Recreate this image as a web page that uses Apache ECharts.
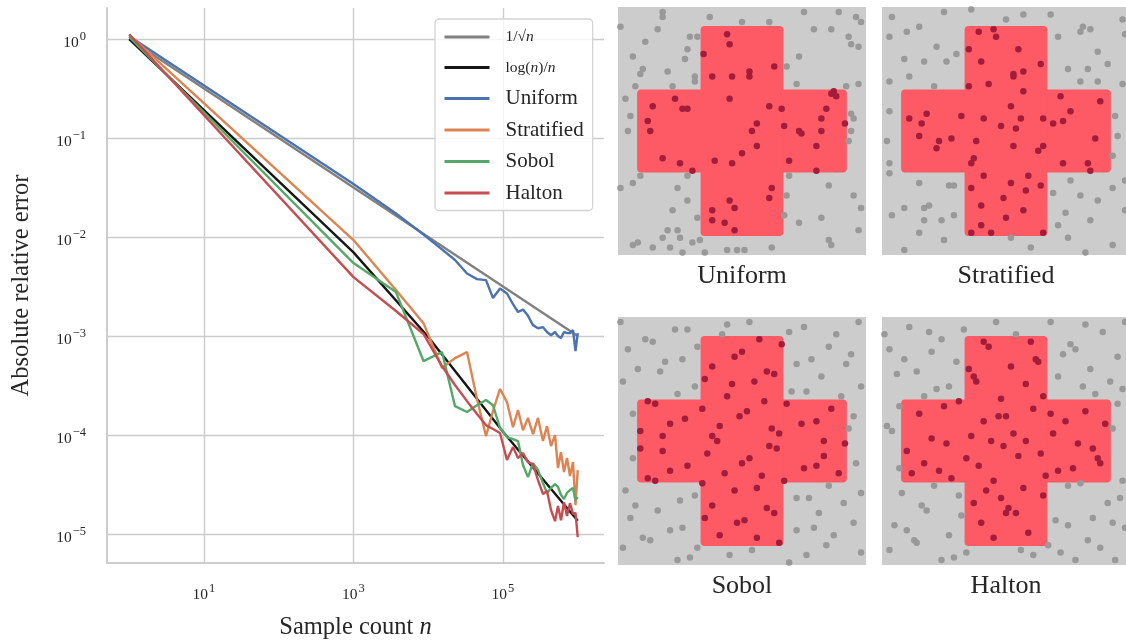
<!DOCTYPE html>
<html>
<head>
<meta charset="utf-8">
<title>Sampling error</title>
<script src="https://cdn.jsdelivr.net/npm/echarts@6.0.0/dist/echarts.min.js"></script>
<style>
  html, body { margin: 0; padding: 0; background: #fff; }
  #chart { width: 1126px; height: 641px; }
</style>
</head>
<body>
<div id="chart"></div>
<script>
var font = 'Liberation Serif';
var textColor = '#262626';

// reference curves
var refN = [1, 1000000];
var sqrtErr = [1, 0.001];
var logN = [1, 1000, 10000, 100000, 1000000];
var logErr = [1.0, 0.0070, 0.00098, 0.000108, 0.0000136];

// sample counts and errors of the four samplers
var sampleN = [1, 1000, 3700, 8640, 15280, 22800, 33000, 44900, 59200, 73500,
    91200, 113100, 136100, 158800, 185200, 216000, 251900, 293900, 342800, 387800,
    438700, 496400, 544300, 596900, 654900, 718200, 787600, 864000, 933000, 1000000];
var uniformErr = [1.07, 0.0343, 0.0173, 0.0106, 0.0075, 0.00586, 0.00428, 0.00376, 0.00367, 0.00242,
    0.00302, 0.00269, 0.00210, 0.00175, 0.00185, 0.00160, 0.00129, 0.00120, 0.00123, 0.00110,
    0.00102, 0.00110, 0.00100, 0.000954, 0.00110, 0.00107, 0.00107, 0.00115, 0.000705, 0.00107];
var stratifiedErr = [1.10, 0.00933, 0.00292, 0.00135, 0.000475, 0.000599, 0.000689, 0.000231, 0.0000977, 0.000175,
    0.000292, 0.000215, 0.000120, 0.000179, 0.000112, 0.000149, 0.000102, 0.000149, 0.0000870, 0.000123,
    0.0000774, 0.000100, 0.0000464, 0.0000673, 0.0000423, 0.0000586, 0.0000385, 0.0000533, 0.0000196, 0.0000443];
var sobolErr = [1.05, 0.00546, 0.00278, 0.000559, 0.000689, 0.000196, 0.000171, 0.000200, 0.000226, 0.000200,
    0.000118, 0.0000954, 0.0000911, 0.0000870, 0.0000498, 0.0000376, 0.0000521, 0.0000443, 0.0000327, 0.0000260,
    0.0000292, 0.0000320, 0.0000299, 0.0000248, 0.0000226, 0.0000260, 0.0000278, 0.0000292, 0.0000220, 0.0000237];
var haltonErr = [1.12, 0.00394, 0.00179, 0.00105, 0.000498, 0.000320, 0.000220, 0.000163, 0.000126, 0.000115,
    0.000105, 0.0000559, 0.0000756, 0.0000586, 0.0000658, 0.0000533, 0.0000509, 0.0000351, 0.0000254, 0.0000272,
    0.0000175, 0.0000135, 0.0000192, 0.0000138, 0.0000210, 0.0000152, 0.0000205, 0.0000160, 0.0000164, 0.00000933];

// the cross: two bars [x0, y0, x1, y1] in the unit square (y from the top)
var crossBars = [[0.077, 0.333, 0.923, 0.667], [0.333, 0.077, 0.667, 0.923]];

// sample points [x, y] in the unit square (y from the top)
var uniformPts = [
    [0.18,0.02],[0.18,0.04],[0.37,0.04],[0.50,0.06],[0.61,0.06],[0.75,0.02],[0.79,0.09],[0.89,0.02],[0.96,0.04],[0.98,0.06],
    [0.86,0.09],[0.01,0.08],[0.16,0.09],[0.11,0.14],[0.29,0.12],[0.32,0.12],[0.28,0.17],[0.27,0.21],[0.06,0.20],[0.10,0.25],
    [0.09,0.27],[0.20,0.26],[0.31,0.28],[0.31,0.30],[0.22,0.32],[0.07,0.32],[0.03,0.37],[0.73,0.20],[0.68,0.24],[0.72,0.31],
    [0.93,0.12],[0.94,0.15],[0.97,0.16],[0.97,0.31],[0.92,0.32],[0.05,0.44],[0.04,0.50],[0.94,0.43],[0.95,0.45],[0.94,0.50],
    [0.93,0.54],[0.09,0.68],[0.06,0.71],[0.01,0.73],[0.24,0.73],[0.28,0.68],[0.28,0.78],[0.22,0.82],[0.32,0.85],[0.20,0.90],
    [0.24,0.90],[0.18,0.93],[0.25,0.93],[0.08,0.95],[0.06,0.96],[0.14,0.97],[0.21,0.97],[0.30,0.95],[0.33,0.94],[0.26,0.99],
    [0.35,0.99],[0.44,0.98],[0.48,0.98],[0.51,0.98],[0.62,0.97],[0.69,0.68],[0.68,0.76],[0.67,0.84],[0.73,0.87],[0.82,0.85],
    [0.85,0.72],[0.95,0.76],[0.98,0.81],[0.97,0.90],[0.85,0.94],[0.86,0.96],
    [0.44,0.11],[0.45,0.15],[0.345,0.19],[0.38,0.28],[0.46,0.28],[0.53,0.26],[0.53,0.28],[0.63,0.24],[0.23,0.37],[0.45,0.37],
    [0.14,0.40],[0.26,0.41],[0.28,0.41],[0.61,0.40],[0.66,0.41],[0.84,0.41],[0.86,0.35],[0.87,0.34],[0.88,0.36],[0.82,0.45],
    [0.12,0.46],[0.13,0.50],[0.56,0.47],[0.54,0.50],[0.67,0.48],[0.73,0.50],[0.74,0.51],[0.82,0.50],[0.915,0.47],[0.56,0.56],
    [0.80,0.56],[0.50,0.59],[0.18,0.61],[0.25,0.63],[0.39,0.62],[0.46,0.63],[0.69,0.62],[0.30,0.66],[0.80,0.66],[0.62,0.73],
    [0.61,0.77],[0.45,0.78],[0.47,0.81],[0.38,0.82],[0.38,0.86],[0.43,0.87],[0.47,0.90]
];
var stratifiedPts = [
    [0.04,0.04],[0.25,0.02],[0.36,0.01],[0.50,0.05],[0.57,0.03],[0.68,0.03],[0.81,0.08],[0.80,0.10],[0.84,0.09],[0.97,0.05],
    [0.98,0.11],[0.03,0.12],[0.10,0.10],[0.15,0.08],[0.71,0.12],[0.22,0.16],[0.09,0.21],[0.17,0.22],[0.26,0.22],[0.30,0.19],
    [0.87,0.18],[0.91,0.23],[0.75,0.25],[0.83,0.25],[0.80,0.30],[0.87,0.30],[0.97,0.31],[0.03,0.30],[0.11,0.28],[0.21,0.32],
    [0.03,0.42],[0.94,0.44],[0.95,0.52],[0.02,0.54],[0.93,0.60],[0.03,0.63],[0.03,0.67],[0.15,0.71],[0.27,0.72],[0.29,0.72],
    [0.76,0.70],[0.69,0.75],[0.80,0.76],[0.93,0.73],[0.98,0.70],[0.09,0.81],[0.17,0.81],[0.19,0.80],[0.04,0.84],[0.17,0.86],
    [0.24,0.86],[0.29,0.84],[0.87,0.78],[0.74,0.83],[0.84,0.86],[0.98,0.82],[0.71,0.88],[0.15,0.91],[0.25,0.94],[0.09,0.98],
    [0.52,0.93],[0.60,0.97],[0.75,0.93],[0.82,0.99],[0.93,0.96],
    [0.39,0.10],[0.45,0.09],[0.46,0.12],[0.35,0.17],[0.55,0.17],[0.40,0.22],[0.64,0.23],[0.57,0.26],[0.53,0.27],[0.53,0.28],
    [0.43,0.31],[0.35,0.32],[0.57,0.34],[0.72,0.36],[0.88,0.38],[0.52,0.40],[0.76,0.42],[0.18,0.43],[0.11,0.45],[0.16,0.47],
    [0.32,0.44],[0.41,0.45],[0.56,0.45],[0.65,0.45],[0.73,0.46],[0.69,0.47],[0.48,0.48],[0.54,0.49],[0.15,0.52],[0.23,0.54],
    [0.22,0.57],[0.28,0.53],[0.38,0.54],[0.53,0.56],[0.65,0.56],[0.63,0.58],[0.86,0.53],[0.37,0.61],[0.36,0.63],[0.73,0.63],
    [0.83,0.63],[0.84,0.66],[0.41,0.68],[0.59,0.68],[0.36,0.73],[0.52,0.71],[0.58,0.74],[0.64,0.72],[0.49,0.77],[0.40,0.80],
    [0.57,0.82],[0.50,0.85],[0.40,0.88],[0.36,0.91],[0.44,0.91],[0.65,0.91]
];
var sobolPts = [
    [0.01,0.02],[0.23,0.05],[0.28,0.05],[0.44,0.03],[0.53,0.02],[0.75,0.04],[0.97,0.02],[0.69,0.06],[0.88,0.07],[0.11,0.09],
    [0.14,0.10],[0.42,0.07],[0.32,0.12],[0.04,0.13],[0.85,0.12],[0.94,0.15],[0.78,0.17],[0.72,0.19],[0.92,0.19],[0.19,0.18],
    [0.26,0.17],[0.08,0.21],[0.17,0.22],[0.82,0.24],[0.02,0.26],[0.31,0.28],[0.24,0.31],[0.70,0.30],[0.76,0.30],[0.98,0.28],
    [0.90,0.32],[0.06,0.39],[0.95,0.40],[0.93,0.45],[0.06,0.57],[0.96,0.59],[0.03,0.70],[0.85,0.68],[0.98,0.71],[0.31,0.72],
    [0.72,0.73],[0.77,0.73],[0.91,0.75],[0.07,0.76],[0.16,0.78],[0.25,0.74],[0.05,0.81],[0.81,0.79],[0.95,0.83],[0.79,0.85],
    [0.21,0.86],[0.26,0.85],[0.72,0.86],[0.87,0.88],[0.10,0.89],[0.13,0.90],[0.84,0.92],[0.02,0.93],[0.32,0.93],[0.54,0.94],
    [0.45,0.96],[0.24,0.98],[0.29,0.97],[0.76,0.96],[0.98,0.95],[0.69,0.99],
    [0.57,0.09],[0.66,0.11],[0.47,0.16],[0.50,0.14],[0.38,0.20],[0.60,0.22],[0.63,0.23],[0.35,0.25],[0.55,0.26],[0.46,0.27],
    [0.44,0.32],[0.59,0.34],[0.12,0.34],[0.15,0.35],[0.68,0.35],[0.34,0.37],[0.86,0.37],[0.52,0.38],[0.49,0.40],[0.27,0.41],
    [0.80,0.42],[0.21,0.43],[0.74,0.43],[0.41,0.44],[0.62,0.45],[0.65,0.47],[0.09,0.46],[0.18,0.48],[0.38,0.48],[0.40,0.50],
    [0.83,0.50],[0.915,0.51],[0.09,0.53],[0.61,0.52],[0.64,0.53],[0.18,0.54],[0.36,0.55],[0.83,0.56],[0.53,0.57],[0.50,0.59],
    [0.28,0.60],[0.80,0.60],[0.75,0.61],[0.21,0.62],[0.43,0.63],[0.89,0.63],[0.58,0.64],[0.12,0.65],[0.15,0.66],[0.67,0.66],
    [0.34,0.67],[0.56,0.69],[0.47,0.70],[0.38,0.76],[0.60,0.77],[0.63,0.79],[0.35,0.81],[0.48,0.83],[0.51,0.82],[0.41,0.88],
    [0.56,0.89],[0.65,0.91]
];
var haltonPts = [
    [0.01,0.07],[0.11,0.04],[0.19,0.06],[0.24,0.09],[0.33,0.05],[0.46,0.02],[0.54,0.07],[0.68,0.02],[0.82,0.03],[0.89,0.06],
    [0.98,0.02],[0.03,0.13],[0.09,0.17],[0.20,0.14],[0.30,0.18],[0.76,0.11],[0.78,0.13],[0.73,0.15],[0.95,0.16],[0.06,0.23],
    [0.14,0.22],[0.84,0.21],[0.71,0.24],[0.92,0.26],[0.27,0.28],[0.22,0.29],[0.17,0.32],[0.81,0.28],[0.86,0.31],[0.97,0.29],
    [0.95,0.35],[0.07,0.36],[0.02,0.44],[0.04,0.46],[0.93,0.45],[0.07,0.61],[0.97,0.66],[0.08,0.71],[0.21,0.68],[0.31,0.72],
    [0.16,0.76],[0.18,0.78],[0.32,0.80],[0.75,0.68],[0.80,0.67],[0.91,0.75],[0.96,0.73],[0.70,0.82],[0.75,0.84],[0.85,0.81],
    [0.93,0.83],[0.98,0.85],[0.05,0.84],[0.10,0.86],[0.13,0.90],[0.14,0.91],[0.27,0.88],[0.03,0.94],[0.24,0.98],[0.29,0.97],
    [0.34,0.95],[0.56,0.94],[0.61,0.96],[0.67,0.92],[0.72,0.95],[0.78,0.98],[0.83,0.90],[0.88,0.93],[0.94,0.98],
    [0.41,0.10],[0.43,0.12],[0.60,0.10],[0.62,0.17],[0.63,0.18],[0.52,0.20],[0.35,0.21],[0.37,0.24],[0.38,0.26],[0.58,0.27],
    [0.65,0.32],[0.48,0.33],[0.31,0.34],[0.25,0.36],[0.15,0.39],[0.61,0.37],[0.82,0.38],[0.68,0.39],[0.47,0.40],[0.50,0.40],
    [0.74,0.42],[0.41,0.42],[0.90,0.43],[0.53,0.47],[0.69,0.47],[0.36,0.48],[0.20,0.49],[0.44,0.50],[0.26,0.51],[0.58,0.50],
    [0.79,0.51],[0.49,0.52],[0.85,0.53],[0.10,0.54],[0.64,0.55],[0.55,0.56],[0.34,0.57],[0.87,0.57],[0.88,0.59],[0.17,0.59],
    [0.39,0.60],[0.77,0.61],[0.23,0.62],[0.71,0.62],[0.12,0.63],[0.28,0.65],[0.66,0.64],[0.45,0.66],[0.42,0.70],[0.57,0.69],
    [0.65,0.72],[0.48,0.73],[0.37,0.75],[0.51,0.77],[0.50,0.79],[0.54,0.79],[0.40,0.83],[0.59,0.87],[0.45,0.89]
];

var seriesColors = {
    sqrt: '#808080', log: '#161616', Uniform: '#4c72b0',
    Stratified: '#dd8452', Sobol: '#55a868', Halton: '#c44e52'
};
var legendText = {
    sqrt: '{m|1/\u221a}{i|n}',
    log: '{m|log(}{i|n}{m|)/}{i|n}',
    Uniform: 'Uniform', Stratified: 'Stratified', Sobol: 'Sobol', Halton: 'Halton'
};

function pairs(xs, ys) {
    return xs.map(function (x, i) { return [x, ys[i]]; });
}
function inCross(p) {
    return crossBars.some(function (b) {
        return p[0] >= b[0] && p[0] <= b[2] && p[1] >= b[1] && p[1] <= b[3];
    });
}
// exponent if v is a power of ten, else null
function decade(v) {
    var e = Math.log10(v);
    var r = Math.round(e);
    return Math.abs(e - r) < 1e-6 ? r : null;
}
function pow10(e) {
    return '{b|10}{s|' + (e < 0 ? '\u2212' + (-e) : e) + '}';
}

var tickRich = {
    b: { fontFamily: font, fontSize: 15.5, color: textColor, lineHeight: 25 },
    s: { fontFamily: font, fontSize: 12.5, color: textColor, lineHeight: 12, verticalAlign: 'top', padding: [0, 0, 0, 1] }
};
var mathRich = {
    m: { fontFamily: font, fontSize: 15.5, color: textColor, lineHeight: 20 },
    i: { fontFamily: font, fontSize: 15.5, fontStyle: 'italic', color: textColor, lineHeight: 20 }
};

function lineSeries(name, xs, ys) {
    return {
        name: name, type: 'line', xAxisIndex: 0, yAxisIndex: 0,
        data: pairs(xs, ys), symbol: 'none', color: seriesColors[name],
        lineStyle: { width: 2.4, color: seriesColors[name] }
    };
}

var grids = [{ left: 107, top: 8, width: 497, height: 555, outerBoundsMode: 'none' }];
var xAxes = [{
    type: 'log', gridIndex: 0, min: 0.504, max: 2.245e6,
    axisLine: { show: true, lineStyle: { color: '#cccccc', width: 2 } },
    axisTick: { show: false },
    axisLabel: {
        margin: 19, interval: 0, showMinLabel: false, showMaxLabel: false, rich: tickRich,
        formatter: function (v) {
            var e = decade(v);
            return e !== null && e % 2 === 1 ? pow10(e) : '';
        }
    },
    splitLine: {
        show: true, showMinLine: false, showMaxLine: false,
        lineStyle: { color: ['rgba(0,0,0,0)', '#cccccc'], width: 1.4 }
    },
    name: '{t|Sample count }{i|n}', nameLocation: 'middle', nameGap: 52,
    nameTextStyle: {
        rich: {
            t: { fontFamily: font, fontSize: 24.5, color: textColor },
            i: { fontFamily: font, fontSize: 24.5, fontStyle: 'italic', color: textColor }
        }
    }
}];
var yAxes = [{
    type: 'log', gridIndex: 0, min: 5.1e-6, max: 2.06,
    axisLine: { show: true, lineStyle: { color: '#cccccc', width: 2 } },
    axisTick: { show: false },
    axisLabel: {
        margin: 21, interval: 0, showMinLabel: false, showMaxLabel: false, rich: tickRich,
        padding: [8, 0, 0, 0],
        formatter: function (v) {
            var e = decade(v);
            return e === null ? '' : pow10(e);
        }
    },
    splitLine: {
        show: true, showMinLine: false, showMaxLine: false,
        lineStyle: { color: '#cccccc', width: 1.4 }
    },
    name: 'Absolute relative error', nameLocation: 'middle', nameGap: 73,
    nameTextStyle: { fontFamily: font, fontSize: 24.5, color: textColor }
}];

var series = [
    lineSeries('sqrt', refN, sqrtErr),
    lineSeries('log', logN, logErr),
    lineSeries('Uniform', sampleN, uniformErr),
    lineSeries('Stratified', sampleN, stratifiedErr),
    lineSeries('Sobol', sampleN, sobolErr),
    lineSeries('Halton', sampleN, haltonErr)
];

// the four sample pictures
var panels = [
    { title: 'Uniform', pts: uniformPts, left: 618, top: 7 },
    { title: 'Stratified', pts: stratifiedPts, left: 882, top: 7 },
    { title: 'Sobol', pts: sobolPts, left: 618, top: 317 },
    { title: 'Halton', pts: haltonPts, left: 882, top: 317 }
];
panels.forEach(function (p, k) {
    var i = k + 1;
    grids.push({
        left: p.left, top: p.top, width: 248, height: 248, outerBoundsMode: 'none',
        show: true, backgroundColor: '#cccccc', borderWidth: 0
    });
    xAxes.push({
        type: 'value', gridIndex: i, min: 0, max: 1,
        axisLine: { show: false }, axisTick: { show: false },
        axisLabel: { show: false }, splitLine: { show: false },
        name: p.title, nameLocation: 'middle', nameGap: 8,
        nameTextStyle: { fontFamily: font, fontSize: 26, color: textColor }
    });
    yAxes.push({
        type: 'value', gridIndex: i, min: 0, max: 1, inverse: true, show: false
    });
    series.push({
        type: 'custom', xAxisIndex: i, yAxisIndex: i, data: crossBars, silent: true, z: 2,
        encode: { x: [0, 2], y: [1, 3] },
        renderItem: function (params, api) {
            var a = api.coord([api.value(0), api.value(1)]);
            var b = api.coord([api.value(2), api.value(3)]);
            return {
                type: 'rect',
                shape: {
                    x: Math.min(a[0], b[0]), y: Math.min(a[1], b[1]),
                    width: Math.abs(b[0] - a[0]), height: Math.abs(b[1] - a[1]), r: 4
                },
                style: { fill: '#fd5a66' }
            };
        }
    });
    series.push({
        type: 'scatter', xAxisIndex: i, yAxisIndex: i, data: p.pts, z: 3,
        symbolSize: 6.5, silent: true,
        itemStyle: {
            opacity: 1,
            color: function (d) { return inCross(d.value) ? '#a31d3a' : '#999999'; }
        }
    });
});

var myChart = echarts.init(document.getElementById('chart'));
myChart.setOption({
    animation: false,
    backgroundColor: '#ffffff',
    grid: grids,
    xAxis: xAxes,
    yAxis: yAxes,
    legend: {
        orient: 'vertical', left: 435, top: 19,
        data: ['sqrt', 'log', 'Uniform', 'Stratified', 'Sobol', 'Halton'],
        itemWidth: 45, itemHeight: 14, itemGap: 10.5,
        padding: [8, 9, 7, 8],
        borderColor: '#d4d4d4', borderWidth: 1.3, borderRadius: 4,
        backgroundColor: 'rgba(255,255,255,0.8)',
        itemStyle: { opacity: 0 },
        lineStyle: { width: 3 },
        formatter: function (name) { return legendText[name]; },
        textStyle: {
            fontFamily: font, fontSize: 21, color: textColor, lineHeight: 20,
            padding: [0, 0, 0, 11], rich: mathRich
        }
    },
    series: series
});
</script>
</body>
</html>
